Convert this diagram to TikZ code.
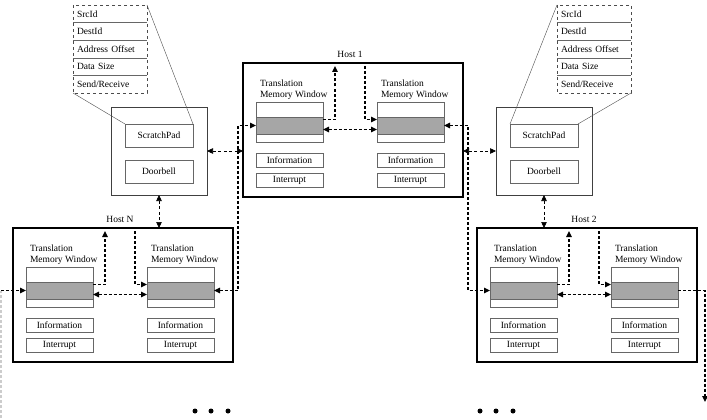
\documentclass[tikz,border=0pt]{standalone}
\usepackage{fontspec}
\setmainfont{Liberation Serif}
\usetikzlibrary{arrows.meta,positioning}

\begin{document}
\begin{tikzpicture}[x=1pt, y=-1pt,
    >={Triangle[length=6pt,width=5.5pt]},
    every node/.style={outer sep=0pt, font=\fontsize{9.5}{11}\selectfont},
    host/.style={draw, line width=1.5pt, minimum width=220pt, minimum height=134pt, anchor=north west},
    win/.style={draw=black!60, fill=white, minimum width=67pt, minimum height=40pt, inner sep=0pt, anchor=north west},
    band/.style={draw=black!60, fill=gray!70, minimum width=67pt, minimum height=17pt, inner sep=0pt},
    reg/.style={draw=black!60, minimum width=67pt, minimum height=14pt, inner sep=0pt},
    padbox/.style={draw=black!75, line width=0.6pt, minimum width=96pt, minimum height=88pt, anchor=north west},
    padreg/.style={draw=black!60, minimum width=68pt, minimum height=23pt, inner sep=0pt},
    field/.style={minimum height=17.6pt, text width=66pt, inner xsep=4pt, inner ysep=0pt, align=left, anchor=north west},
    bus/.style={line width=1.5pt, dash pattern=on 3pt off 2pt},
    link/.style={line width=0.6pt, dash pattern=on 3pt off 2.5pt}
]
    \useasboundingbox (0,0) rectangle (707,420);

    % Hosts
    \foreach \h/\x/\y in {1/243/63, N/13/228, 2/477/228}
    {
    	\node[host] (Host-\h) at (\x,\y) {};
    	\node[above=2pt of Host-\h, xshift=-3pt] (Name-\h) {Host \h};
    	
    	\foreach \i/\dx in {1/13, 2/134}
    	{
    		\node[win] (Win-\h-\i) at ([shift={(\dx,39)}]Host-\h.north west) {};
    		\node[band, below=15pt of Win-\h-\i.north] (Band-\h-\i) {};
    		\node[reg, below=11pt of Win-\h-\i] (Info-\h-\i) {Information};
    		\node[reg, below=6pt of Info-\h-\i] (Irq-\h-\i) {Interrupt};
    		\node[anchor=south west, align=left, inner sep=1pt,
    			xshift=3pt, yshift=1pt] (Cap-\h-\i) at (Win-\h-\i.north west)
    			{Translation\\Memory Window};
    	}
    	
    	\coordinate (Up-\h) at ([shift={(92,3)}]Host-\h.north west);
    	\coordinate (Dn-\h) at ([shift={(122,3)}]Host-\h.north west);
    	\draw[bus, ->] ([yshift=6pt]Band-\h-1.east) -| (Up-\h);
    	\draw[bus, ->] (Dn-\h) |- ([yshift=6pt]Band-\h-2.west);
    	\draw[bus, <->] ([yshift=-4pt]Band-\h-1.east) -- ([yshift=-4pt]Band-\h-2.west);
    }
    
    % ScratchPads
    \foreach \s/\x/\tx in {N/111/73, 2/496/557}
    {
    	\node[padbox] (Pad-\s) at (\x,107) {};
    	\node[padreg, anchor=north west] (Scratch-\s) at ([shift={(14,17)}]Pad-\s.north west) {ScratchPad};
    	\node[padreg, below=13pt of Scratch-\s] (Bell-\s) {Doorbell};
    	
    	\foreach \r [count=\i] in {SrcId, DestId, Address Offset, Data Size, Send/Receive}
    	{
    		\node[field] (Reg-\s-\i) at (\tx,{5+17.6*(\i-1)}) {\r};
    	}
    	\foreach \i in {1,...,4}
    	{
    		\draw[black!60] (Reg-\s-\i.south west) -- (Reg-\s-\i.south east);
    	}
    	\draw[black!70, dashed] (Reg-\s-1.north west) rectangle (Reg-\s-5.south east);
    }
    
    % Callouts
    \draw[black!70] (Reg-N-5.south west) -- (Scratch-N.north west);
    \draw[black!70] (Reg-N-1.north east) -- (Scratch-N.north east);
    \draw[black!70] (Reg-2-1.north west) -- (Scratch-2.north west);
    \draw[black!70] (Reg-2-5.south east) -- (Scratch-2.north east);
    
    % Links ScratchPad-Host
    \draw[link, <->] (Pad-N.south) -- (Pad-N.south |- Host-N.north);
    \draw[link, <->] (Pad-N.east) -- (Pad-N.east -| Host-1.west);
    \draw[link, <->] (Pad-2.west -| Host-1.east) -- (Pad-2.west);
    \draw[link, <->] (Pad-2.south) -- (Pad-2.south |- Host-2.north);
    
    % Ring between hosts
    \coordinate (In) at (1,418);
    \coordinate (Out) at (705,402);
    \draw[bus, black!20] (In) -- (In |- Band-N-1.west);
    \draw[bus, ->] (In |- Band-N-1.west) -- (Band-N-1.west);
    \draw[bus, <->] (Band-N-2.east) -- ++(24,0) |- (Band-1-1.west);
    \draw[bus, <->] (Band-1-2.east) -- ++(24,0) |- (Band-2-1.west);
    \draw[bus, ->] (Band-2-2.east) -| (Out);
    
    % More hosts
    \foreach \x in {195,211,228,480,496,513}
    {
    	\fill (\x,411) circle (2.5pt);
    }
\end{tikzpicture}
\end{document}
